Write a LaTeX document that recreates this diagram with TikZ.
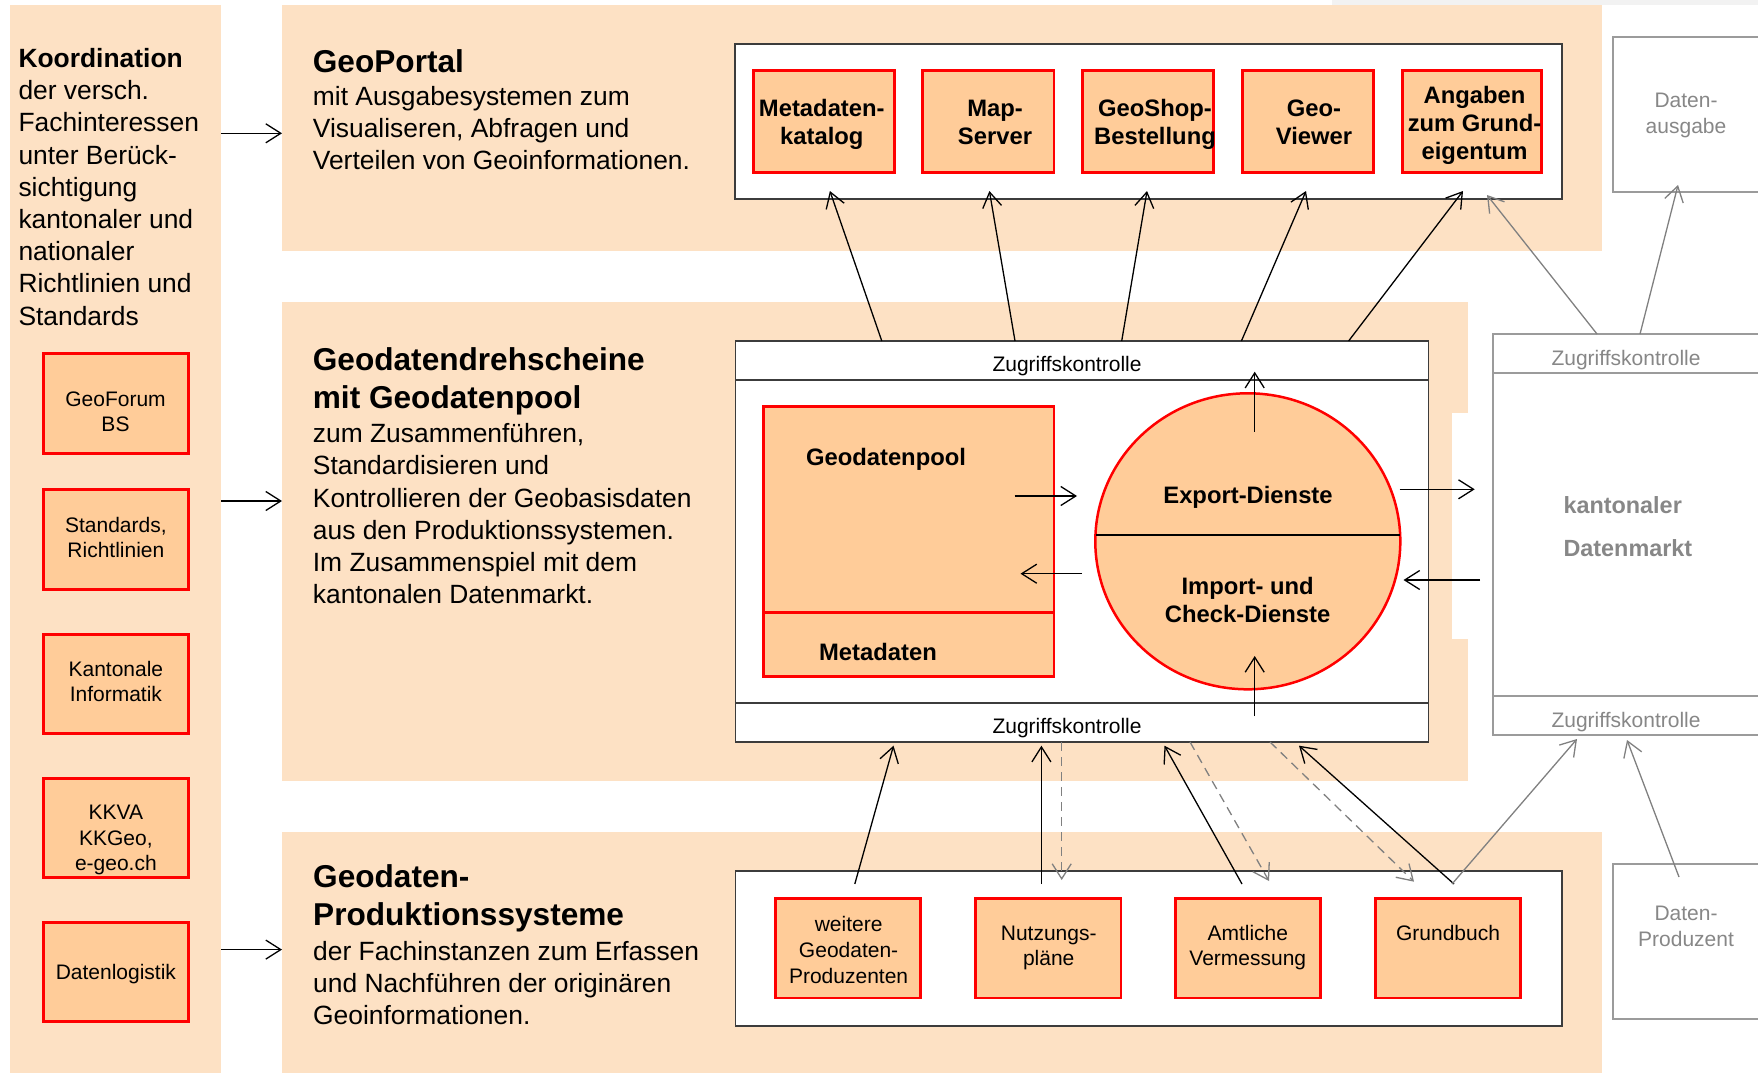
\documentclass[tikz,border=0pt]{standalone}
\usepackage{fontspec}
\setmainfont{Liberation Sans}
\usetikzlibrary{arrows.meta,shapes.geometric}
\definecolor{bandc}{RGB}{253,225,196}
\definecolor{boxc}{RGB}{255,204,153}
\definecolor{framec}{RGB}{60,60,60}
\definecolor{gboxc}{RGB}{155,155,155}
\definecolor{garrc}{RGB}{128,128,128}
\definecolor{gtextc}{RGB}{135,135,135}
\definecolor{stripc}{RGB}{242,242,242}
\newcommand\mlines[1]{\begin{tabular}[t]{@{}c@{}}#1\end{tabular}}
\newcommand\llines[1]{\begin{tabular}[t]{@{}l@{}}#1\end{tabular}}
\tikzset{
  area/.style={rectangle,inner sep=0pt,outer sep=0pt,anchor=north west},
  bandbg/.style={area,fill=bandc},
  wframe/.style={area,draw=framec,line width=1.6pt,fill=white},
  gframe/.style={area,draw=gboxc,line width=1.6pt,fill=white},
  redbox/.style={rectangle,inner sep=0pt,outer sep=0pt,draw=red,line width=2.8pt,fill=boxc},
  arr/.style={-{Straight Barb[length=15pt,width=19pt]},line width=1.3pt,draw=black},
  garr/.style={arr,draw=garrc},
  darr/.style={garr,dash pattern=on 9pt off 6pt},
  bodytxt/.style={anchor=base west,inner sep=0pt},
  boxtxt/.style={anchor=base,inner sep=0pt,font=\fontsize{21}{25.7}\selectfont},
  gboxtxt/.style={boxtxt,text=gtextc},
  boldtxt/.style={anchor=base,inner sep=0pt,font=\bfseries\fontsize{23.8}{28.3}\selectfont},
  striptxt/.style={anchor=base,inner sep=0pt,font=\fontsize{21}{25}\selectfont},
}
\begin{document}
\begin{tikzpicture}[x=1pt,y=-1pt]
\useasboundingbox (0,0) rectangle (1758,1073);

% ---------- background bands ----------
\fill[stripc] (1332,0) rectangle (1758,5);
\node[bandbg,minimum width=211pt,minimum height=1068pt] (leftcol) at (10,5) {};
\node[bandbg,minimum width=1320pt,minimum height=246pt] (portalband) at (282,5) {};
\node[bandbg,minimum width=1186pt,minimum height=479pt] (midband) at (282,302) {};
\fill[white] (1452,413) rectangle (1469,639);
\node[bandbg,minimum width=1320pt,minimum height=241pt] (prodband) at (282,832) {};

% ---------- frames ----------
\node[wframe,minimum width=827pt,minimum height=155pt] (portal) at (735,44) {};
\node[wframe,minimum width=693pt,minimum height=401pt] (hub) at (735.5,341) {};
\draw[framec,line width=1.6pt] (735.5,380) -- (1428.5,380);
\draw[framec,line width=1.6pt] (735.5,703) -- (1428.5,703);
\node[wframe,minimum width=826.5pt,minimum height=155pt] (prod) at (735.5,871) {};

\node[gframe,minimum width=275pt,minimum height=401pt] (markt) at (1493,334) {};
\draw[gboxc,line width=1.6pt] (1493,373) -- (1768,373);
\draw[gboxc,line width=1.6pt] (1493,696) -- (1768,696);
\node[gframe,minimum width=155pt,minimum height=155pt] (ausgabe) at (1613,37) {};
\node[gframe,minimum width=155pt,minimum height=155pt] (produzent) at (1613,864) {};

% ---------- left column text and boxes ----------
\node[bodytxt,font=\fontsize{26.4}{32.2}\selectfont] (koord) at (18.3,67.5)
  {\llines{\textbf{Koordination}\\der versch.\\Fachinteressen\\unter Berück-\\sichtigung\\kantonaler und\\nationaler\\Richtlinien und\\Standards}};
\node[redbox,minimum width=145.5pt,minimum height=99.9pt] (gf) at (115.9,403.7) {};
\node[redbox,minimum width=145.5pt,minimum height=99.5pt] (std) at (115.9,539.5) {};
\node[redbox,minimum width=145.5pt,minimum height=99.1pt] (kinf) at (115.9,683.7) {};
\node[redbox,minimum width=145.5pt,minimum height=99.5pt] (kkva) at (115.9,827.9) {};
\node[redbox,minimum width=145.5pt,minimum height=98.9pt] (dlog) at (115.9,971.9) {};
\node[boxtxt] (gft) at (115.5,406) {\mlines{GeoForum\\BS}};
\node[boxtxt] (stdt) at (115.9,532) {\mlines{Standards,\\Richtlinien}};
\node[boxtxt] (kinft) at (115.9,676) {\mlines{Kantonale\\Informatik}};
\node[boxtxt] (kkvat) at (115.9,819.5) {\mlines{KKVA\\KKGeo,\\e-geo.ch}};
\node[boxtxt] (dlogt) at (115.9,979.5) {Datenlogistik};

% ---------- band texts ----------
\node[bodytxt,font=\fontsize{26.4}{31.9}\selectfont] (portaltxt) at (312.7,72.3)
  {\llines{{\fontsize{31.6}{38}\selectfont\bfseries GeoPortal}\\[1.4pt]mit Ausgabesystemen zum\\Visualiseren, Abfragen und\\Verteilen von Geoinformationen.}};
\node[bodytxt,font=\fontsize{26.4}{32.1}\selectfont] (hubtxt) at (312.7,370.5)
  {\llines{{\fontsize{31.6}{38}\selectfont\bfseries Geodatendrehscheine}\\[5pt]{\fontsize{31.6}{38}\selectfont\bfseries mit Geodatenpool}\\[2.7pt]zum Zusammenführen,\\Standardisieren und\\Kontrollieren der Geobasisdaten\\aus den Produktionssystemen.\\Im Zusammenspiel mit dem\\kantonalen Datenmarkt.}};
\node[bodytxt,font=\fontsize{26.4}{32}\selectfont] (prodtxt) at (313,887)
  {\llines{{\fontsize{31.6}{38}\selectfont\bfseries Geodaten-}\\[6pt]{\fontsize{31.6}{38}\selectfont\bfseries Produktionssysteme}\\[2.5pt]der Fachinstanzen zum Erfassen\\und Nachführen der originären\\Geoinformationen.}};

% ---------- GeoPortal boxes ----------
\node[redbox,minimum width=140.6pt,minimum height=101.9pt] (meta) at (824.1,121.7) {};
\node[redbox,minimum width=131.5pt,minimum height=101.9pt] (maps) at (988.2,121.7) {};
\node[redbox,minimum width=131pt,minimum height=101.9pt] (shop) at (1147.9,121.7) {};
\node[redbox,minimum width=131.4pt,minimum height=101.9pt] (view) at (1308.1,121.7) {};
\node[redbox,minimum width=139.2pt,minimum height=101.9pt] (grund) at (1472,121.7) {};
\node[boldtxt] (metat) at (821.8,116) {\mlines{Metadaten-\\katalog}};
\node[boldtxt] (mapst) at (995,116) {\mlines{Map-\\Server}};
\node[boldtxt] (shopt) at (1155,116) {\mlines{GeoShop-\\Bestellung}};
\node[boldtxt] (viewt) at (1314,116) {\mlines{Geo-\\Viewer}};
\node[boldtxt] (grundt) at (1474.5,103.3) {\mlines{Angaben\\zum Grund-\\eigentum}};

% ---------- hub content ----------
\node[striptxt] (zk1) at (1067,371.7) {Zugriffskontrolle};
\node[striptxt] (zk2) at (1067,733) {Zugriffskontrolle};
\node[redbox,minimum width=290.9pt,minimum height=270pt] (pool) at (908.55,541.35) {};
\draw[red,line width=2.8pt] (pool.west |- 0,612.7) -- (pool.east |- 0,612.7);
\node[boldtxt] (poolt) at (886,465) {Geodatenpool};
\node[boldtxt] (metadt) at (878,660) {Metadaten};
\node[ellipse,draw=red,line width=2.5pt,fill=boxc,inner sep=0pt,outer sep=0pt,
      minimum width=305pt,minimum height=296pt] (svc) at (1247.8,541.3) {};
\draw[black,line width=2.4pt] (1095.5,535) -- (1400,535);
\node[boldtxt] (exportt) at (1248,503.3) {Export-Dienste};
\node[boldtxt] (importt) at (1247.6,594.3) {\mlines{Import- und\\Check-Dienste}};

% ---------- right side grey boxes text ----------
\node[striptxt,text=gtextc] (zk3) at (1626,365.7) {Zugriffskontrolle};
\node[striptxt,text=gtextc] (zk4) at (1626,727) {Zugriffskontrolle};
\node[anchor=base west,inner sep=0pt,text=gtextc,font=\bfseries\fontsize{23.4}{42.7}\selectfont] (marktt) at (1563.3,513.3) {\llines{kantonaler\\Datenmarkt}};
\node[gboxtxt] (ausgabet) at (1686,107.3) {\mlines{Daten-\\ausgabe}};
\node[gboxtxt] (produzentt) at (1686,920.7) {\mlines{Daten-\\Produzent}};

% ---------- production boxes ----------
\node[redbox,minimum width=145.1pt,minimum height=99.8pt] (weit) at (848.3,948) {};
\node[redbox,minimum width=145.5pt,minimum height=99.8pt] (nutz) at (1048.2,948) {};
\node[redbox,minimum width=145.2pt,minimum height=99.8pt] (amtl) at (1248,948) {};
\node[redbox,minimum width=145.2pt,minimum height=99.8pt] (gb) at (1448,948) {};
\node[boxtxt] (weitt) at (848.6,931.7) {\mlines{weitere\\Geodaten-\\Produzenten}};
\node[boxtxt] (nutzt) at (1048.7,940) {\mlines{Nutzungs-\\pläne}};
\node[boxtxt] (amtlt) at (1247.8,940) {\mlines{Amtliche\\Vermessung}};
\node[boxtxt] (gbt) at (1448,940) {Grundbuch};

% ---------- arrows: left column ----------
\draw[arr] (leftcol.east |- 0,133.3) -- (portalband.west |- 0,133.3);
\draw[arr] (leftcol.east |- 0,501) -- (midband.west |- 0,501);
\draw[arr] (leftcol.east |- 0,949.6) -- (prodband.west |- 0,949.6);

% ---------- arrows: hub to portal ----------
\coordinate (tp1) at (829.9,191);
\coordinate (tp2) at (989.4,191);
\coordinate (tp3) at (1147,191);
\coordinate (tp4) at (1306,191);
\coordinate (tp5) at (1463,191);
\draw[arr] (hub.north -| 881.8,0) -- (tp1);
\draw[arr] (hub.north -| 1015,0) -- (tp2);
\draw[arr] (hub.north -| 1121.7,0) -- (tp3);
\draw[arr] (hub.north -| 1241.4,0) -- (tp4);
\draw[arr] (hub.north -| 1348.6,0) -- (tp5);
\coordinate (tg1) at (1487,195);
\coordinate (tg2) at (1678,185);
\draw[garr] (markt.north -| 1597,0) -- (tg1);
\draw[garr] (markt.north -| 1640,0) -- (tg2);

% ---------- arrows: inside hub ----------
\coordinate (m1a) at (1014.7,496);  \coordinate (m1b) at (1077,496);
\coordinate (m2a) at (1082,573.7);  \coordinate (m2b) at (1020.5,573.7);
\coordinate (m3a) at (1399.6,489.3);\coordinate (m3b) at (1474.7,489.3);
\coordinate (m4a) at (1480,580);    \coordinate (m4b) at (1403.5,580);
\coordinate (m5a) at (1254.7,431.7);\coordinate (m5b) at (1254.7,371.7);
\coordinate (m6a) at (1254.7,716);  \coordinate (m6b) at (1254.7,656);
\draw[arr] (m1a) -- (m1b);
\draw[arr] (m2a) -- (m2b);
\draw[arr] (m3a) -- (m3b);
\draw[arr] (m4a) -- (m4b);
\draw[arr] (m5a) -- (m5b);
\draw[arr] (m6a) -- (m6b);

% ---------- arrows: production to hub ----------
\coordinate (b1a) at (854.8,884);   \coordinate (b1b) at (893.5,745.7);
\coordinate (b2a) at (1041.4,884);  \coordinate (b2b) at (1041.4,745.7);
\coordinate (b3a) at (1242,884);    \coordinate (b3b) at (1164.5,745.7);
\coordinate (b4a) at (1454,884);    \coordinate (b4b) at (1299,745.7);
\draw[arr] (b1a) -- (b1b);
\draw[arr] (b2a) -- (b2b);
\draw[arr] (b3a) -- (b3b);
\draw[arr] (b4a) -- (b4b);
\coordinate (d1b) at (1061.7,880);
\coordinate (d2b) at (1269,881);
\coordinate (d3b) at (1414,881.7);
\draw[darr] (hub.south -| 1061.7,0) -- (d1b);
\draw[darr] (hub.south -| 1190,0) -- (d2b);
\draw[darr] (hub.south -| 1270,0) -- (d3b);
\coordinate (g3a) at (1452,884);  \coordinate (g3b) at (1577,739);
\coordinate (g4a) at (1679,877);  \coordinate (g4b) at (1627,740);
\draw[garr] (g3a) -- (g3b);
\draw[garr] (g4a) -- (g4b);
\end{tikzpicture}
\end{document}
